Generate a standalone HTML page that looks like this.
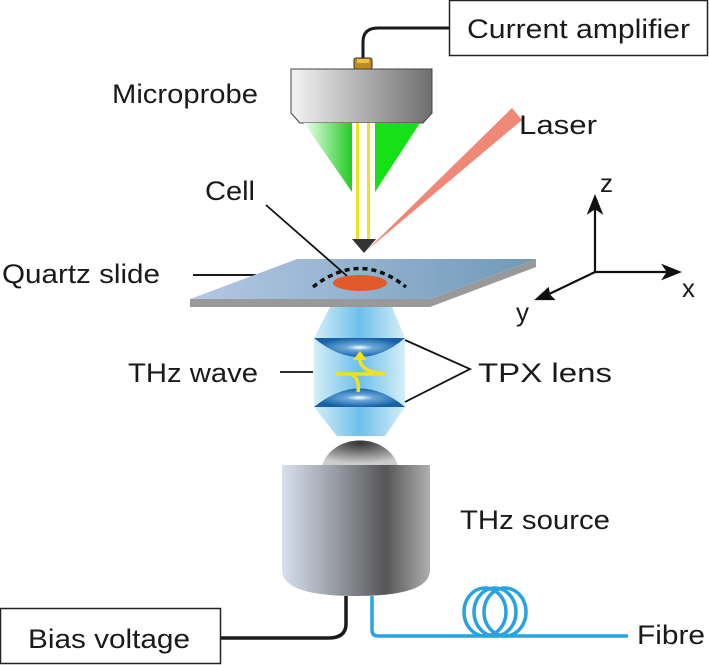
<!DOCTYPE html>
<html><head><meta charset="utf-8"><style>
html,body{margin:0;padding:0;background:#fff}
svg{display:block}
text{font-family:"Liberation Sans",Arial,sans-serif;fill:#1a1a1a}
</style></head><body>
<svg width="709" height="665" viewBox="0 0 709 665" xmlns="http://www.w3.org/2000/svg">
<defs>
<linearGradient id="gh" x1="0" x2="1"><stop offset="0" stop-color="#f4f4f4"/><stop offset="1" stop-color="#6e6e6e"/></linearGradient>
<linearGradient id="gl" x1="0" x2="1"><stop offset="0" stop-color="#f0fff0"/><stop offset="1" stop-color="#22cc22"/></linearGradient>
<linearGradient id="gs" x1="0" x2="1"><stop offset="0" stop-color="#b4c8e4"/><stop offset="1" stop-color="#6f9ab8"/></linearGradient>
<linearGradient id="gc" x1="0" x2="1"><stop offset="0" stop-color="#d8e0ee"/><stop offset="0.35" stop-color="#9a9ea6"/><stop offset="0.7" stop-color="#555"/><stop offset="1" stop-color="#b0b0b0"/></linearGradient>
<radialGradient id="gd" cx="0.5" cy="0.1" r="0.8"><stop offset="0" stop-color="#333"/><stop offset="1" stop-color="#ccc"/></radialGradient>
<linearGradient id="gb" x1="0" x2="1"><stop offset="0" stop-color="#d6eef8"/><stop offset="0.5" stop-color="#6cc0ea"/><stop offset="1" stop-color="#d6eef8"/></linearGradient>
<radialGradient id="glens" cx="0.5" cy="0.5" r="0.5"><stop offset="0" stop-color="#fff"/><stop offset="0.3" stop-color="#6aa8d8"/><stop offset="1" stop-color="#1660a8"/></radialGradient>
</defs>

<!-- Current amplifier -->
<rect x="449.5" y="0.5" width="258" height="55" fill="#fff" stroke="#222" stroke-width="1.5"/>
<text x="467" y="38" font-size="27" textLength="223" lengthAdjust="spacingAndGlyphs">Current amplifier</text>
<path d="M449 28 H378 Q363 28 363 42 V60" fill="none" stroke="#1a1a1a" stroke-width="3"/>
<rect x="354" y="58" width="18" height="11" rx="2" fill="#c08a20" stroke="#333"/>
<rect x="357" y="59" width="12" height="4" fill="#f0c040"/>

<!-- probe head -->
<path d="M291 69 H432 V113 L423 123 H300 L291 113 Z" fill="url(#gh)" stroke="#444"/>
<path d="M304 123 L352 192 V123 Z" fill="url(#gl)"/>
<path d="M375 123 V192 L420 123 Z" fill="#16e016"/>
<rect x="352" y="123" width="23" height="117" fill="#fff"/>
<rect x="356" y="123" width="3" height="117" fill="#f0e020"/>
<rect x="367" y="123" width="3" height="117" fill="#f0e020"/>
<path d="M352 239 H376 L364 253 Z" fill="#333"/>
<path d="M365 252 L512 108 L522 120 Z" fill="#f08878"/>
<text x="519" y="134" font-size="27" textLength="78" lengthAdjust="spacingAndGlyphs">Laser</text>

<text x="112" y="103" font-size="27" textLength="146" lengthAdjust="spacingAndGlyphs">Microprobe</text>
<text x="205" y="200" font-size="27" textLength="50" lengthAdjust="spacingAndGlyphs">Cell</text>
<text x="2" y="283" font-size="27" textLength="158" lengthAdjust="spacingAndGlyphs">Quartz slide</text>
<line x1="193" y1="275" x2="256" y2="275" stroke="#1a1a1a" stroke-width="2"/>

<!-- slide -->
<path d="M190 299 H430 L536 259 V267 L430 307 H190 Z" fill="#999"/>
<path d="M297 259 H536 L430 299 H190 Z" fill="url(#gs)"/>
<path d="M313 287 Q360 250 406 287" fill="none" stroke="#111" stroke-width="3.5" stroke-dasharray="5 4"/>
<ellipse cx="360" cy="283" rx="27" ry="8" fill="#e05a2a"/>
<line x1="266" y1="205" x2="347" y2="276" stroke="#111" stroke-width="1.8"/>

<!-- axes -->
<g stroke="#111" stroke-width="2.2" fill="#111">
<line x1="595" y1="272" x2="595" y2="205"/><path d="M589 212 L595 197 L601 212 L595 208Z"/>
<line x1="595" y1="272" x2="670" y2="272"/><path d="M664 266 L679 272 L664 278 L668 272Z"/>
<line x1="595" y1="272" x2="545" y2="296"/><path d="M548 289 L537 299 L553 299 L549 295Z"/>
</g>
<text x="600" y="192" font-size="26">z</text>
<text x="682" y="297" font-size="26">x</text>
<text x="516" y="321" font-size="26">y</text>

<!-- THz beam -->
<path d="M330 307 H392 L405 338 V407 L385 436 H337 L314 407 V338 Z" fill="url(#gb)"/>
<path d="M314 338 H405 Q360 376 314 338 Z" fill="url(#glens)"/>
<path d="M314 407 H405 Q360 370 314 407 Z" fill="url(#glens)"/>
<path d="M358 392 Q360 377 350 374 H335 M336 374 H386 Q358 372 360 357" fill="none" stroke="#f0e020" stroke-width="3.5"/>
<path d="M353 360 L360 351 L367 360 Z" fill="#f0e020"/>
<line x1="280" y1="372" x2="313" y2="372" stroke="#111" stroke-width="1.8"/>
<text x="128" y="382" font-size="27" textLength="130" lengthAdjust="spacingAndGlyphs">THz wave</text>
<path d="M405 340 L470 369 L405 402" fill="none" stroke="#111" stroke-width="1.8"/>
<text x="478" y="382" font-size="27" textLength="134" lengthAdjust="spacingAndGlyphs">TPX lens</text>

<!-- source -->
<path d="M322 466 A39 33 0 0 1 398 466 Z" fill="url(#gd)"/>
<path d="M282 465 H430 V570 Q430 596 356 596 Q282 596 282 570 Z" fill="url(#gc)"/>
<text x="460" y="529" font-size="27" textLength="150" lengthAdjust="spacingAndGlyphs">THz source</text>

<!-- wires -->
<path d="M346 596 V624 Q346 638 328 638 H221" fill="none" stroke="#1a1a1a" stroke-width="3.5"/>
<rect x="0.5" y="608.5" width="220" height="55" fill="#fff" stroke="#222" stroke-width="1.5"/>
<text x="28" y="648" font-size="27" textLength="162" lengthAdjust="spacingAndGlyphs">Bias voltage</text>
<path d="M372 596 V630 Q372 636 378 636 H628" fill="none" stroke="#29a3e0" stroke-width="3.5"/>
<g fill="none" stroke="#29a3e0" stroke-width="3.5">
<ellipse cx="485" cy="612" rx="21" ry="24"/>
<ellipse cx="495" cy="612" rx="21" ry="24"/>
<ellipse cx="505" cy="612" rx="21" ry="24"/>
</g>
<text x="637" y="644" font-size="27" textLength="68" lengthAdjust="spacingAndGlyphs">Fibre</text>
</svg>
</body></html>
